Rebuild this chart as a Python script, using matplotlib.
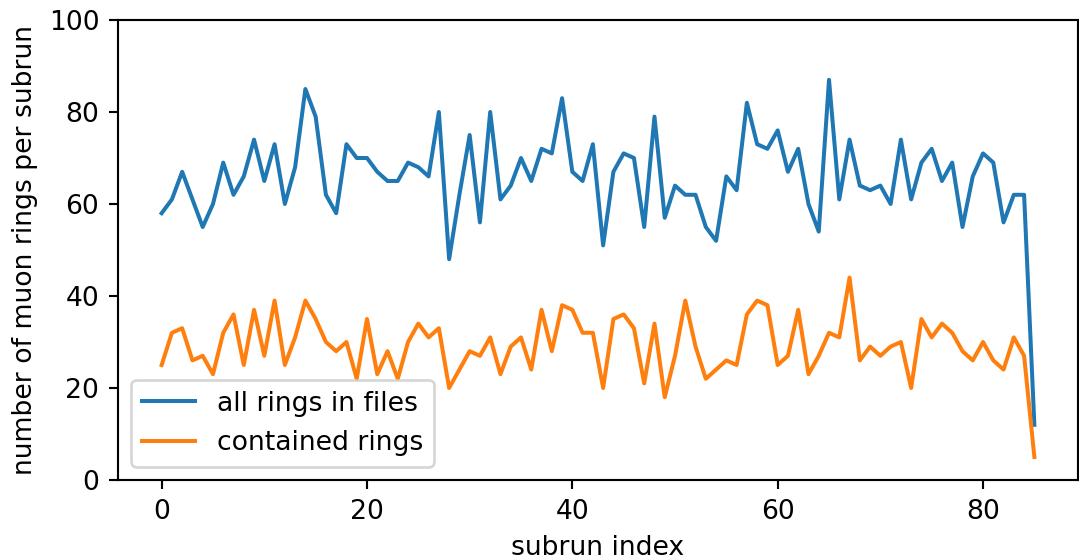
import matplotlib
matplotlib.use("Agg")
import matplotlib.pyplot as plt
import numpy as np

all_rings = [58, 61, 67, 61, 55, 60, 69, 62, 66, 74,
             65, 73, 60, 68, 85, 79, 62, 58, 73, 70,
             70, 67, 65, 65, 69, 68, 66, 80, 48, 62,
             75, 56, 80, 61, 64, 70, 65, 72, 71, 83,
             67, 65, 73, 51, 67, 71, 70, 55, 79, 57,
             64, 62, 62, 55, 52, 66, 63, 82, 73, 72,
             76, 67, 72, 60, 54, 87, 61, 74, 64, 63,
             64, 60, 74, 61, 69, 72, 65, 69, 55, 66,
             71, 69, 56, 62, 62, 12]
contained_rings = [25, 32, 33, 26, 27, 23, 32, 36, 25, 37,
                   27, 39, 25, 31, 39, 35, 30, 28, 30, 22,
                   35, 23, 28, 22, 30, 34, 31, 33, 20, 24,
                   28, 27, 31, 23, 29, 31, 24, 37, 28, 38,
                   37, 32, 32, 20, 35, 36, 33, 21, 34, 18,
                   27, 39, 29, 22, 24, 26, 25, 36, 39, 38,
                   25, 27, 37, 23, 27, 32, 31, 44, 26, 29,
                   27, 29, 30, 20, 35, 31, 34, 32, 28, 26,
                   30, 26, 24, 31, 27, 5]
subrun = np.arange(len(all_rings))

dpi = 192
fig = plt.figure(figsize=(1079 / dpi, 559 / dpi), dpi=dpi)
ax = fig.add_axes([118 / 1079, 1 - 480 / 559, 960 / 1079, 460 / 559])
ax.plot(subrun, all_rings, label="all rings in files")
ax.plot(subrun, contained_rings, label="contained rings")
ax.set_ylim(0, 100)
ax.set_xlabel("subrun index")
ax.set_ylabel("number of muon rings per subrun")
ax.legend(loc="lower left")
fig.savefig("out.png", dpi=dpi)
